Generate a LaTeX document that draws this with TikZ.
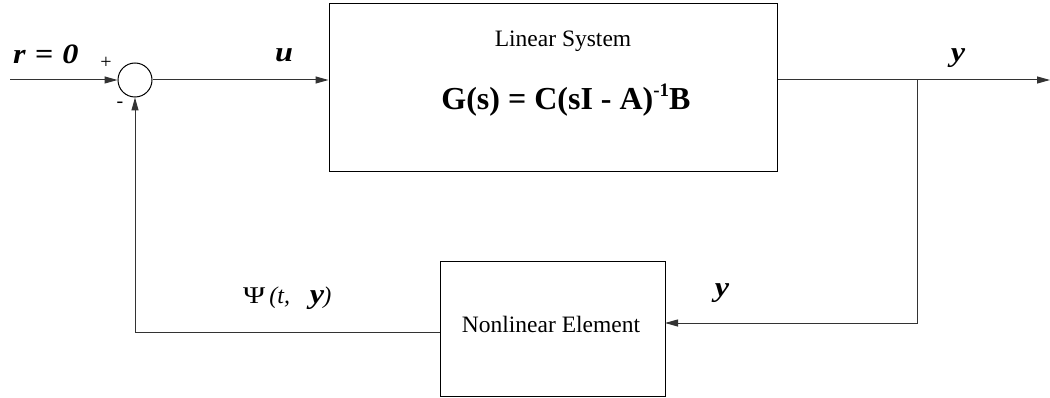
\documentclass[tikz,border=0pt]{standalone}
\usepackage{fontspec}
\setmainfont{Liberation Serif}
\usetikzlibrary{arrows.meta}
\tikzset{
  blk/.style={draw=black, line width=1pt, rectangle, inner sep=0pt},
  sumnode/.style={draw=black, line width=1pt, circle, minimum size=34pt, inner sep=0pt},
  wire/.style={draw=black!80, line width=1pt},
  arr/.style={wire, -{Triangle[length=13pt,width=7pt]}},
  lbl/.style={inner sep=0pt, anchor=base},
}
\newcommand{\fs}[1]{\fontsize{#1}{#1}\selectfont}
\newcommand{\lab}[1]{\scalebox{1.15}[1]{\fs{28}\textbf{\textit{#1}}}}
\begin{document}
\begin{tikzpicture}[x=1pt,y=-1pt]
\useasboundingbox (0,0) rectangle (1050,398);
% blocks
\node[sumnode] (sum) at (135,80) {};
\node[blk, minimum width=448pt, minimum height=168pt] (lin) at (553,88) {};
\node[blk, minimum width=225pt, minimum height=134pt] (nl) at (552.5,329) {};
% texts in blocks
\node[lbl] (lintitle) at (563,47) {\fs{23.5}Linear System};
\node[lbl] (formula) at (566,110) {\fs{32}\textbf{G(s) = C(sI - A)\raisebox{0.42em}{\fs{19}-1}B}};
\node[lbl] (nltext) at (551,332) {\fs{23.5}Nonlinear Element};
% coordinates
\coordinate (in) at (10,80);
\coordinate (out) at (1050,80);
\coordinate (br) at (917,80);
\coordinate (fbr) at (917,323);
\coordinate (nlin) at (665,323);
\coordinate (nlout) at (440,332);
\coordinate (fbl) at (135,332);
% connectors
\draw[arr] (in) -- (sum.west);
\draw[arr] (sum.east) -- (sum.east -| lin.west);
\draw[arr] (lin.east |- out) -- (out);
\draw[arr] (br) -- (fbr) -- (nlin);
\draw[arr] (nlout) -- (fbl) -- (sum.south);
% labels
\node[lbl, anchor=base west] (r0) at (13,64) {\lab{r\hspace{1pt} = \hspace{1pt}0}};
\node[lbl] (plus) at (106,69) {\fs{20}+};
\node[lbl] (minus) at (120,108) {\fs{20}-};
\node[lbl] (ulbl) at (284,62) {\lab{u}};
\node[lbl] (ytop) at (958,62) {\lab{y}};
\node[lbl] (ymid) at (722,297) {\lab{y}};
\node[lbl, anchor=base west] (psi) at (243,303) {\scalebox{1.25}[1]{\fs{24}Ψ}\fs{24}\,\textit{(t,}\hspace{20pt}\lab{y}\hspace{-1pt}\textit{)}};
\end{tikzpicture}
\end{document}
